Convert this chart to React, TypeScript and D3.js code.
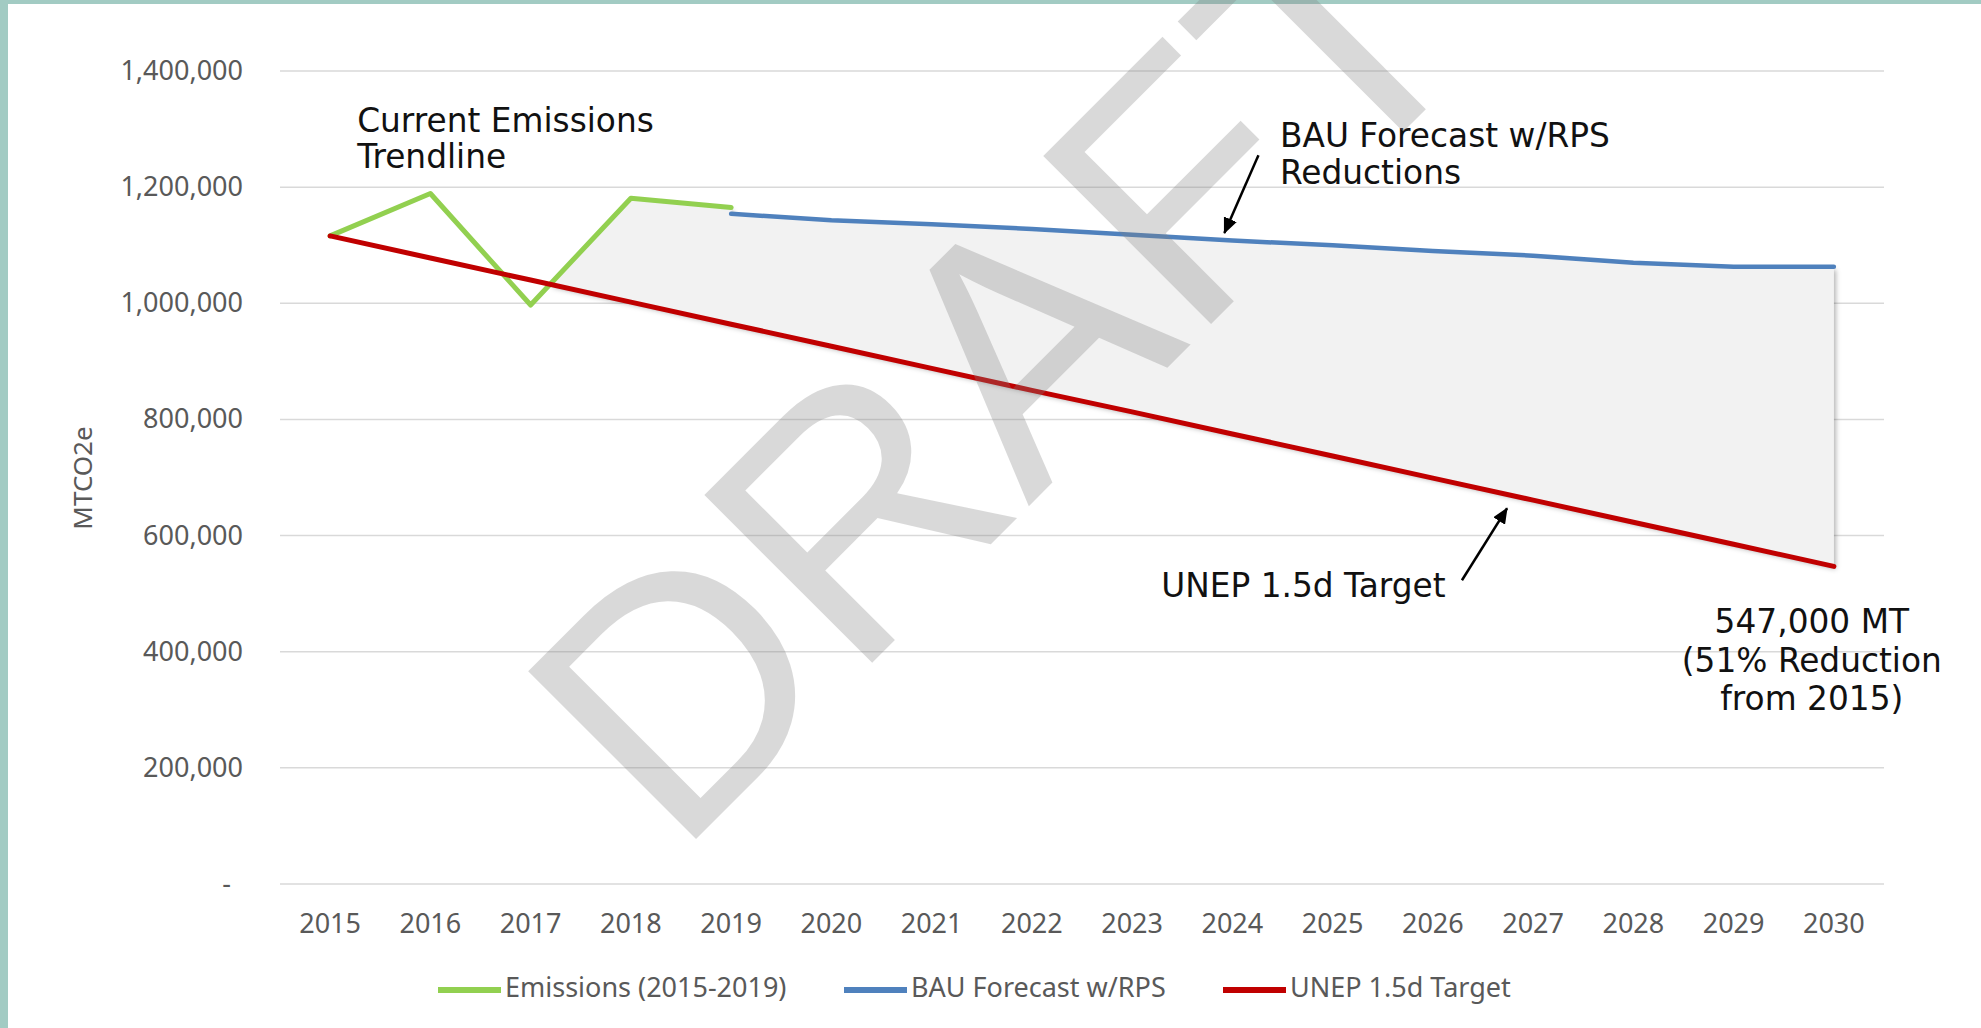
import { useEffect, useRef } from 'react'
import * as d3 from 'd3'

const W = 1981, H = 1028
const M = { top: 71, right: 97, bottom: 144, left: 280 }

const years = [2015, 2016, 2017, 2018, 2019, 2020, 2021, 2022, 2023, 2024, 2025, 2026, 2027, 2028, 2029, 2030]
const yTicks = [0, 200000, 400000, 600000, 800000, 1000000, 1200000, 1400000]

const emissionYears = [2015, 2016, 2017, 2018, 2019]
const emissions = [1116000, 1189000, 997000, 1181000, 1165000]

const bauYears = [2019, 2020, 2021, 2022, 2023, 2024, 2025, 2026, 2027, 2028, 2029, 2030]
const bau = [1154000, 1143000, 1136000, 1128000, 1118000, 1108000, 1100000, 1090000, 1082000, 1070000, 1063000, 1063000]

const unep = [1116000, 1078000, 1040000, 1002000, 964000, 926000, 888000, 850000, 813000, 775000, 737000, 699000, 661000, 623000, 585000, 547000]

const legendItems = [
  { label: 'Emissions (2015-2019)', color: '#92d050' },
  { label: 'BAU Forecast w/RPS', color: '#4f81bd' },
  { label: 'UNEP 1.5d Target', color: '#c00000' },
]

const TICK_FONT = '"Noto Sans", sans-serif'
const NOTE_FONT = '"DejaVu Sans", Verdana, sans-serif'

export default function App() {
  const svgRef = useRef<SVGSVGElement>(null)

  useEffect(() => {
    const svg = d3.select(svgRef.current!).attr('width', W).attr('height', H)
    svg.selectAll('*').remove()

    const x = d3.scaleLinear().domain([2014.5, 2030.5]).range([M.left, W - M.right])
    const y = d3.scaleLinear().domain([0, 1400000]).range([H - M.bottom, M.top])

    svg.append('rect').attr('width', W).attr('height', H).attr('fill', '#fff')
    // teal frame (left + top)
    svg.append('rect').attr('x', 0).attr('y', 0).attr('width', 8).attr('height', H).attr('fill', '#a2cbc3')
    svg.append('rect').attr('x', 0).attr('y', 0).attr('width', W).attr('height', 4).attr('fill', '#a2cbc3')

    const defs = svg.append('defs')
    const f = defs.append('filter').attr('id', 'shade').attr('x', '-5%').attr('y', '-5%').attr('width', '115%').attr('height', '120%')
    f.append('feDropShadow').attr('dx', 2).attr('dy', 3).attr('stdDeviation', 2.5)
      .attr('flood-color', '#000').attr('flood-opacity', 0.3)
    defs.append('marker').attr('id', 'arrow').attr('markerUnits', 'userSpaceOnUse')
      .attr('viewBox', '0 0 16 14').attr('markerWidth', 16).attr('markerHeight', 14)
      .attr('refX', 15).attr('refY', 7).attr('orient', 'auto')
      .append('path').attr('d', 'M0,0 L16,7 L0,14 Z').attr('fill', '#000')

    // Grid
    svg.append('g').selectAll('line').data(yTicks).join('line')
      .attr('x1', M.left).attr('x2', W - M.right)
      .attr('y1', d => y(d)).attr('y2', d => y(d))
      .attr('stroke', '#d9d9d9').attr('stroke-width', 1.5)

    // Y labels
    svg.append('g').selectAll('text').data(yTicks).join('text')
      .attr('x', d => d === 0 ? 231 : 243).attr('y', d => y(d) + 9)
      .attr('text-anchor', 'end').attr('font-family', TICK_FONT).attr('font-size', 27)
      .attr('fill', '#595959')
      .text(d => d === 0 ? '-' : d3.format(',')(d))

    // X labels
    svg.append('g').selectAll('text').data(years).join('text')
      .attr('x', d => x(d)).attr('y', 933)
      .attr('text-anchor', 'middle').attr('font-family', TICK_FONT).attr('font-size', 27)
      .attr('fill', '#595959')
      .text(d => String(d))

    // Y title
    svg.append('text').attr('transform', 'translate(92,478) rotate(-90)')
      .attr('text-anchor', 'middle').attr('font-family', TICK_FONT).attr('font-size', 26)
      .attr('fill', '#595959').text('MTCO2e')

    // Shaded gap between emissions/BAU and the target
    let cross: [number, number] = [emissionYears[0], emissions[0]]
    let crossIdx = 0
    for (let i = 1; i < emissionYears.length; i++) {
      const a0 = emissions[i - 1] - unep[i - 1], a1 = emissions[i] - unep[i]
      if (a0 < 0 && a1 >= 0) {
        const t = a0 / (a0 - a1)
        cross = [emissionYears[i - 1] + t, emissions[i - 1] + t * (emissions[i] - emissions[i - 1])]
        crossIdx = i
      }
    }
    const shadePts: [number, number][] = [cross]
    for (let i = crossIdx; i < emissionYears.length; i++) shadePts.push([emissionYears[i], emissions[i]])
    bauYears.forEach((yr, i) => shadePts.push([yr, bau[i]]))
    for (let i = years.length - 1; i >= 0 && years[i] > cross[0]; i--) shadePts.push([years[i], unep[i]])
    const pl = d3.line<[number, number]>().x(d => x(d[0])).y(d => y(d[1]))
    svg.append('path').attr('d', pl(shadePts) + 'Z')
      .attr('fill', '#f2f2f2').attr('filter', 'url(#shade)')

    const line = d3.line<[number, number]>().x(d => x(d[0])).y(d => y(d[1]))
    const series = [
      { pts: emissionYears.map((yr, i) => [yr, emissions[i]] as [number, number]), color: '#92d050', w: 5 },
      { pts: bauYears.map((yr, i) => [yr, bau[i]] as [number, number]), color: '#4f81bd', w: 4.5 },
      { pts: years.map((yr, i) => [yr, unep[i]] as [number, number]), color: '#c00000', w: 5 },
    ]
    series.forEach(s => {
      svg.append('path').datum(s.pts).attr('d', line)
        .attr('fill', 'none').attr('stroke', s.color).attr('stroke-width', s.w)
        .attr('stroke-linejoin', 'round').attr('stroke-linecap', 'round')
    })

    // Annotations (positioned in data space)
    const note = (lines: string[], yr: number, val: number, anchor: string, lh: number) => {
      const t = svg.append('text').attr('font-family', NOTE_FONT).attr('font-size', 32.8)
        .attr('fill', '#111').attr('text-anchor', anchor)
      lines.forEach((ln, i) => {
        t.append('tspan').attr('x', x(yr)).attr('y', y(val) + i * lh).text(ln)
      })
    }
    note(['Current Emissions', 'Trendline'], 2015.27, 1295000, 'start', 36.5)
    note(['BAU Forecast w/RPS', 'Reductions'], 2024.475, 1269000, 'start', 36.5)
    note(['UNEP 1.5d Target'], 2023.29, 494000, 'start', 36.5)
    note(['547,000 MT', '(51% Reduction', 'from 2015)'], 2029.78, 432000, 'middle', 38.5)

    const arrows = [
      { from: [2024.26, 1255000], to: [2023.92, 1121000] },
      { from: [2026.29, 523000], to: [2026.74, 647000] },
    ]
    arrows.forEach(a => {
      svg.append('line')
        .attr('x1', x(a.from[0])).attr('y1', y(a.from[1]))
        .attr('x2', x(a.to[0])).attr('y2', y(a.to[1]))
        .attr('stroke', '#000').attr('stroke-width', 2.5)
        .attr('marker-end', 'url(#arrow)')
    })

    // DRAFT watermark
    svg.append('text').attr('transform', 'translate(676,859) rotate(-45)')
      .attr('font-family', '"Liberation Sans", Arial, sans-serif').attr('font-size', 345)
      .attr('fill', '#808080').attr('fill-opacity', 0.3).text('DRAFT')

    // Legend
    const lx = [438, 844, 1223]
    const lg = svg.append('g')
    legendItems.forEach((it, i) => {
      lg.append('line').attr('x1', lx[i]).attr('x2', lx[i] + 63).attr('y1', 990).attr('y2', 990)
        .attr('stroke', it.color).attr('stroke-width', 6)
      lg.append('text').attr('x', lx[i] + 67).attr('y', 997)
        .attr('font-family', TICK_FONT).attr('font-size', 27).attr('fill', '#595959')
        .text(it.label)
    })
  }, [])

  return <svg ref={svgRef} style={{ position: 'absolute', left: 0, top: 0, display: 'block' }} width={W} height={H} />
}
